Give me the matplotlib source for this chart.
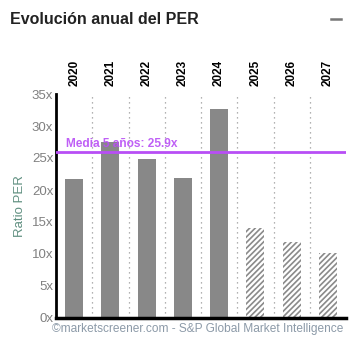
import matplotlib
matplotlib.use("Agg")
import matplotlib.pyplot as plt
from matplotlib.lines import Line2D

years = ["2020", "2021", "2022", "2023", "2024", "2025", "2026", "2027"]
per_values = [21.7, 27.5, 24.8, 21.9, 32.6, 14.1, 11.9, 10.2]
is_estimate = [False, False, False, False, False, True, True, True]
mean_value = 25.9
yticks = [0, 5, 10, 15, 20, 25, 30, 35]

plt.rcParams['font.family'] = ['Liberation Sans', 'DejaVu Sans']
plt.rcParams['hatch.linewidth'] = 1.2

W, H = 357, 350
fig = plt.figure(figsize=(W / 100, H / 100), dpi=100)
ax = fig.add_axes([56 / W, 1 - 318 / H, 290 / W, 224 / H])

x = list(range(len(years)))
for xi, v, est in zip(x, per_values, is_estimate):
    if est:
        ax.bar(xi, v, width=0.5, color='white', edgecolor='#8a8a8a',
               hatch='//////', linewidth=0, zorder=2)
    else:
        ax.bar(xi, v, width=0.5, color='#888888', linewidth=0, zorder=2)

for xi in x[:-1]:
    ax.axvline(xi + 0.5, color='#999999', linestyle=(0, (1, 3)), linewidth=0.9, zorder=1)

ax.axhline(mean_value, color='#b84ef5', linewidth=2, zorder=3)
ax.text(-0.22, mean_value + 0.4, f"Media 5 años: {mean_value}x", color='#b84ef5',
        fontsize=8.6, fontweight='bold', ha='left', va='bottom', zorder=4, alpha=0.9)

ax.set_xlim(-0.5, len(years) - 0.5)
ax.set_ylim(0, 35)
ax.set_yticks(yticks)
ax.set_yticklabels([f"{t}x" for t in yticks], color='#808080', fontsize=9.5)
ax.tick_params(axis='y', length=0, pad=2)
ax.set_xticks(x)
ax.set_xticklabels(years, rotation=90, fontweight='bold', fontsize=8.5, color='black')
ax.tick_params(axis='x', length=0, top=True, bottom=False, labeltop=True, labelbottom=False, pad=6)

for s in ['top', 'right']:
    ax.spines[s].set_visible(False)
ax.spines['left'].set_linewidth(2)
ax.spines['bottom'].set_linewidth(2.5)

ax.set_ylabel("Ratio PER", color='#5f8f80', fontsize=9.5, labelpad=4)

fig.text(10 / W, 1 - 20 / H, "Evolución anual del PER", fontsize=11.5, fontweight='bold',
         color='#222222', ha='left', va='center')
fig.add_artist(Line2D([331 / W, 341 / W], [1 - 19 / H, 1 - 19 / H], color='#777777',
                      linewidth=1.8, transform=fig.transFigure))
fig.text(52 / W, 1 - 329 / H, "©marketscreener.com - S&P Global Market Intelligence",
         fontsize=8.6, color='#8c9aa8', ha='left', va='center')

fig.savefig("out.png", dpi=100)
